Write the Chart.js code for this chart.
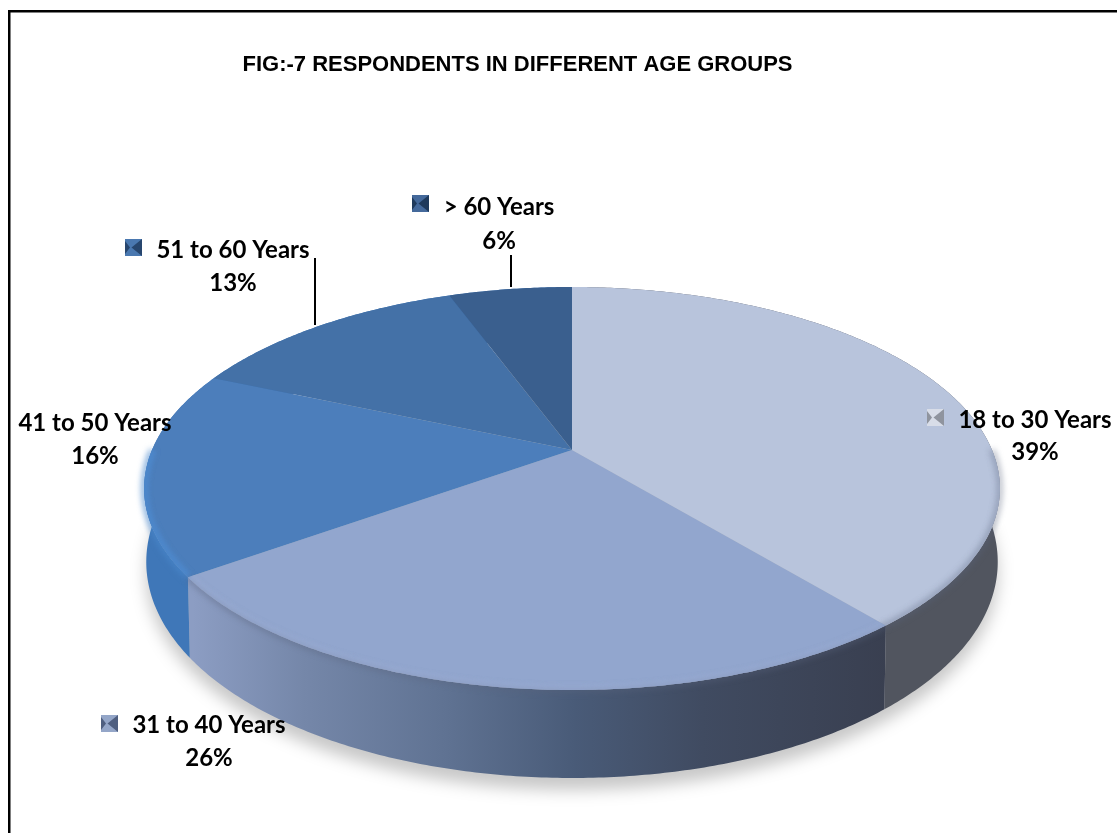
<!DOCTYPE html>
<html>
<head>
<meta charset="utf-8">
<title>Respondents in different age groups</title>
<script src="https://cdn.jsdelivr.net/npm/chart.js@4"></script>
<style>
  html, body { margin: 0; padding: 0; background: #fff; overflow: hidden; }
  canvas { display: block; }
</style>
</head>
<body>
<canvas id="chartAge" width="1117" height="833"></canvas>
<script>
const titleText = 'FIG:-7 RESPONDENTS IN DIFFERENT AGE GROUPS';
const categories = ['18 to 30 Years', '31 to 40 Years', '41 to 50 Years', '51 to 60 Years', '> 60 Years'];
const shares = [39, 26.1, 16.4, 12.9, 5.6]; // las etiquetas redondean

// estilos por porcion
const faceColors = ['#b8c4dc', '#92a6ce', '#4c7ebb', '#4471a7', '#3a5f8e'];
const rimColors  = ['#b8c4dc', '#a6bbe6', '#4f86c8', '#4471a7', '#3a5f8e'];
const keyColors  = [['#d8dde8', '#8f949e'], ['#94a6c8', '#4f5f80'], null, ['#4a78b0', '#27466e'], ['#44699b', '#1f3a5c']];

// posicion de etiquetas: centro de texto, y de cada linea, cuadro de leyenda
const labelPos = [
  { x: 1035, y1: 420, y2: 452, key: [927, 409] },
  { x: 209,  y1: 725, y2: 758, key: [101, 715] },
  { x: 95,   y1: 423, y2: 456, key: null },
  { x: 233,  y1: 250, y2: 283, key: [125, 239] },
  { x: 499,  y1: 207, y2: 241, key: [412, 195] }
];
const leaders = [[315, 258, 325], [511, 255, 287]];

// proyeccion en perspectiva del disco (unidad -> pantalla)
const apexX = 572, apexY = 450, persp = -0.191, yGain = 108.2, xGain = 420;
const bottomShrink = 0.995;

function project(angle, lower) {
  const ux = Math.cos(angle), uy = Math.sin(angle);
  const w = persp * uy + 1;
  let x = xGain * ux / w, y = (yGain * uy + apexY) / w;
  if (lower) { x *= bottomShrink; y += 70 + 18 * uy; }
  return [apexX + x, y];
}

function traceRim(ctx, a0, a1, lower, move) {
  const steps = Math.max(2, Math.ceil(Math.abs(a1 - a0) / 0.01));
  for (let i = 0; i <= steps; i++) {
    const p = project(a0 + (a1 - a0) * i / steps, lower);
    if (i === 0 && move) ctx.moveTo(p[0], p[1]); else ctx.lineTo(p[0], p[1]);
  }
}

function sideFill(ctx, i) {
  const g = ctx.createLinearGradient(150, 0, 1000, 0);
  if (i === 0) {
    g.addColorStop(0, '#51555f'); g.addColorStop(1, '#51555f');
  } else if (i === 1) {
    g.addColorStop(0.05, '#8c9dc3');
    g.addColorStop(0.18, '#7587a9');
    g.addColorStop(0.35, '#5f7292');
    g.addColorStop(0.50, '#495b78');
    g.addColorStop(0.65, '#404b61');
    g.addColorStop(0.87, '#393f50');
  } else {
    g.addColorStop(0, '#3f77b8'); g.addColorStop(1, '#3f77b8');
  }
  return g;
}

const disc3d = {
  id: 'disc3d',
  beforeDatasetDraw(chart) {
    const ctx = chart.ctx;
    const arcs = chart.getDatasetMeta(0).data;
    const first = arcs[0].startAngle, last = arcs[arcs.length - 1].endAngle;

    // sombra bajo el disco
    ctx.save();
    ctx.filter = 'blur(8px)';
    ctx.fillStyle = 'rgba(0,0,0,.22)';
    ctx.translate(0, 12);
    ctx.beginPath();
    traceRim(ctx, first, last, true, true);
    ctx.closePath();
    ctx.fill();
    ctx.restore();

    // costados
    arcs.forEach((arc, i) => {
      ctx.beginPath();
      traceRim(ctx, arc.startAngle, arc.endAngle, false, true);
      traceRim(ctx, arc.endAngle, arc.startAngle, true, false);
      ctx.closePath();
      ctx.fillStyle = sideFill(ctx, i);
      ctx.fill();
    });

    // caras superiores
    arcs.forEach((arc, i) => {
      ctx.beginPath();
      ctx.moveTo(apexX, apexY);
      traceRim(ctx, arc.startAngle, arc.endAngle, false, false);
      ctx.closePath();
      ctx.fillStyle = faceColors[i];
      ctx.fill();
    });

    // bisel claro junto al borde frontal
    arcs.forEach((arc, i) => {
      const a0 = Math.max(arc.startAngle, 0), a1 = Math.min(arc.endAngle, Math.PI);
      if (a1 <= a0) return;
      ctx.save();
      ctx.beginPath();
      ctx.moveTo(apexX, apexY);
      traceRim(ctx, arc.startAngle, arc.endAngle, false, false);
      ctx.closePath();
      ctx.clip();
      ctx.filter = 'blur(2px)';
      ctx.beginPath();
      traceRim(ctx, a0, a1, false, true);
      ctx.strokeStyle = rimColors[i];
      ctx.lineWidth = 9;
      ctx.stroke();
      ctx.restore();
    });

    // transicion suave cara/costado
    ctx.save();
    ctx.filter = 'blur(3px)';
    ctx.lineWidth = 4;
    arcs.forEach((arc, i) => {
      const a0 = Math.max(arc.startAngle, 0), a1 = Math.min(arc.endAngle, Math.PI);
      if (a1 <= a0) return;
      ctx.beginPath();
      traceRim(ctx, a0, a1, false, true);
      ctx.strokeStyle = i === 2 ? '#4a88cc' : 'rgba(90,100,125,.6)';
      ctx.stroke();
    });
    ctx.restore();

    return false; // ya dibujado
  },
  afterDraw(chart) {
    const ctx = chart.ctx;
    // marco
    ctx.fillStyle = '#000';
    ctx.fillRect(8, 10, 2.5, 823);
    ctx.fillRect(8, 10, 1109, 2.5);

    // lineas guia
    leaders.forEach(l => ctx.fillRect(l[0] - 1, l[1], 2, l[2] - l[1]));

    // etiquetas
    ctx.font = 'bold 24px Lato';
    ctx.textAlign = 'center';
    ctx.textBaseline = 'middle';
    categories.forEach((c, i) => {
      const p = labelPos[i];
      ctx.fillStyle = '#000';
      ctx.fillText(c, p.x, p.y1);
      ctx.fillText(Math.round(shares[i]) + '%', p.x, p.y2);
      if (p.key) drawKey(ctx, p.key[0], p.key[1], keyColors[i]);
    });
  }
};

function drawKey(ctx, x, y, cols) {
  const s = 17, c = s / 2;
  ctx.save();
  ctx.filter = 'blur(0.6px)';
  ctx.fillStyle = cols[0];
  ctx.fillRect(x, y, s, s);
  ctx.fillStyle = cols[1];
  ctx.beginPath();
  ctx.moveTo(x + s, y); ctx.lineTo(x + c - 2, y + c); ctx.lineTo(x + s, y + s);
  ctx.closePath();
  ctx.fill();
  ctx.beginPath();
  ctx.moveTo(x, y + 2); ctx.lineTo(x + 5, y + c); ctx.lineTo(x, y + s - 2);
  ctx.closePath();
  ctx.fill();
  ctx.restore();
}

new Chart(document.getElementById('chartAge'), {
  type: 'pie',
  data: {
    labels: categories,
    datasets: [{ data: shares, backgroundColor: faceColors, borderWidth: 0 }]
  },
  options: {
    responsive: false,
    animation: false,
    layout: { padding: { right: 82 } },
    plugins: {
      legend: { display: false },
      tooltip: { enabled: false },
      title: {
        display: true,
        text: titleText,
        color: '#000',
        font: { family: 'Liberation Sans', weight: 'bold', size: 22 },
        padding: { top: 52, bottom: 0 }
      }
    }
  },
  plugins: [disc3d]
});
</script>
</body>
</html>
